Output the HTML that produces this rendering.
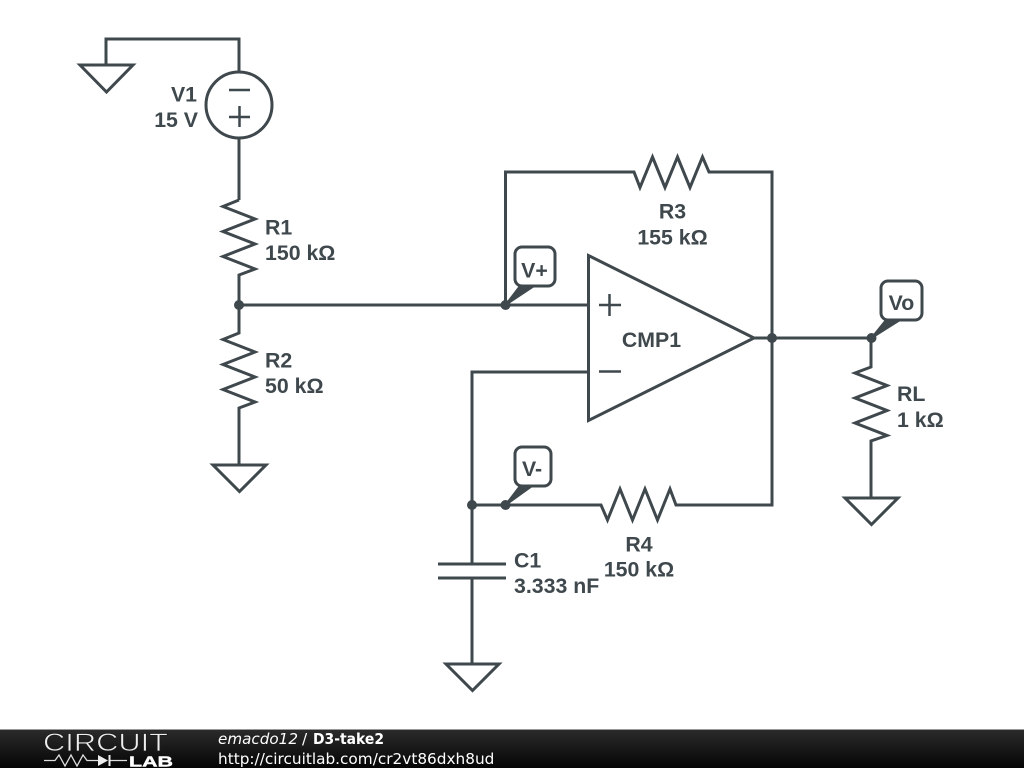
<!DOCTYPE html>
<html><head><meta charset="utf-8"><style>
html,body{margin:0;padding:0;background:#fff;width:1024px;height:768px;overflow:hidden}
svg{position:absolute;left:0;top:0}
.l{font:bold 21.3px "Liberation Sans",sans-serif;fill:#3f484d}
.f{font-family:"DejaVu Sans",sans-serif;font-size:15.3px;fill:#fff}
</style></head><body>
<svg width="1024" height="768" viewBox="0 0 1024 768">
<defs><linearGradient id="g" x1="0" y1="0" x2="0" y2="1"><stop offset="0" stop-color="#2c2c2c"/><stop offset="1" stop-color="#050505"/></linearGradient></defs>
<g fill="none" stroke="#3f484d" stroke-width="3" stroke-linejoin="miter">
<path d="M106 65V39H239V72M239 138V200"/>
<path d="M80 65H133L106.500 92Z"/>
<circle cx="239" cy="105" r="33"/>
<path d="M229 90H250M229 117H250M239.500 106V127" stroke-width="2.500"/>
<path d="M239 200V200L223 206.500L255 219L223 231.500L255 244L223 256.500L255 269L239 275V333L223 339.500L255 352L223 364.500L255 377L223 389.500L255 402L239 408V465"/>
<path d="M213 465H266L239.500 491.500Z"/>
<path d="M239 305H588"/>
<path d="M505.500 305V172H634L640 187.500L652.500 157L665 187.500L677.500 157L690 187.500L702.500 157L709 172H772V505H676L670 489L657.500 520L645 489L632.500 520L620 489L607.500 520L601 505H472"/>
<path d="M588.500 255.500V420.500L754 338Z"/>
<path d="M754 338H871V367L855 373L887 385.500L855 398L887 410.500L855 423L887 435.500L871 441V498"/>
<path d="M845 498H898L871.500 524.500Z"/>
<path d="M588 372H472V564M472 578V664"/>
<path d="M438 564H506M438 578H506"/>
<path d="M446 664H499L472.500 690.500Z"/>
<path d="M609.500 294V316M599 305H621M599 371.500H621" stroke-width="2.500"/>
<rect x="515" y="247" width="40" height="39" rx="7" fill="#fff"/>
<rect x="515" y="447" width="36" height="39" rx="7" fill="#fff"/>
<rect x="881" y="281" width="41" height="39" rx="7" fill="#fff"/>
</g>
<g fill="#3f484d">
<circle cx="239" cy="305" r="5"/><circle cx="505.500" cy="305" r="5"/><circle cx="772" cy="338" r="5"/><circle cx="871.500" cy="338" r="5"/><circle cx="472" cy="505" r="5"/><circle cx="505.500" cy="505" r="5"/>
<path d="M505.500 305L520 286H534Z" stroke="#3f484d" stroke-width="2" stroke-linejoin="round"/><path d="M505.500 505L520 486H532Z" stroke="#3f484d" stroke-width="2" stroke-linejoin="round"/><path d="M871.500 338L886 320H900Z" stroke="#3f484d" stroke-width="2" stroke-linejoin="round"/>
</g>
<g>
<text class="l" x="197" y="101.500" text-anchor="end">V1</text>
<text class="l" x="198" y="127" text-anchor="end">15 V</text>
<text class="l" x="265" y="234.500">R1</text><text class="l" x="265" y="260">150 kΩ</text>
<text class="l" x="265" y="367.500">R2</text><text class="l" x="265" y="393">50 kΩ</text>
<text class="l" x="672.500" y="218.500" text-anchor="middle">R3</text><text class="l" x="672.500" y="244.500" text-anchor="middle">155 kΩ</text>
<text class="l" x="639" y="551.500" text-anchor="middle">R4</text><text class="l" x="639" y="576.500" text-anchor="middle">150 kΩ</text>
<text class="l" x="514" y="567.500">C1</text><text class="l" x="514" y="593">3.333 nF</text>
<text class="l" x="897" y="401">RL</text><text class="l" x="897" y="427">1 kΩ</text>
<text class="l" x="651.500" y="347" text-anchor="middle">CMP1</text>
<text class="l" x="534.500" y="277.500" text-anchor="middle">V+</text>
<text class="l" x="532" y="476" text-anchor="middle">V-</text>
<text class="l" x="901.500" y="310" text-anchor="middle">Vo</text>
</g>
<rect x="0" y="729" width="1024" height="39" fill="url(#g)"/>
<rect x="0" y="729" width="1024" height="1" fill="#999"/>
<text x="43" y="751" style="font:25px 'Liberation Sans',sans-serif" fill="#eee" stroke="#1c1c1c" stroke-width=".7" textLength="125" lengthAdjust="spacingAndGlyphs">CIRCUIT</text>
<path d="M44 760.500H55L59 755L65 766L71 755L77 766L83 755L87 760.500H98M110 760.500H127" fill="none" stroke="#ddd" stroke-width="1.300"/>
<path d="M98 755L108 760.500L98 766ZM108.500 755H110.500V766H108.500Z" fill="#eee"/>
<text x="129" y="766.500" style="font:bold 15px 'Liberation Sans',sans-serif" fill="#fff" stroke="#fff" stroke-width=".4" textLength="44" lengthAdjust="spacingAndGlyphs">LAB</text>
<text class="f" x="218" y="744" font-style="italic" textLength="80" lengthAdjust="spacingAndGlyphs">emacdo12</text>
<text class="f" x="302" y="744">/</text>
<text class="f" x="313" y="744" font-weight="bold" textLength="71" lengthAdjust="spacingAndGlyphs">D3-take2</text>
<text class="f" x="218" y="764">http://circuitlab.com/cr2vt86dxh8ud</text>
</svg>
</body></html>
